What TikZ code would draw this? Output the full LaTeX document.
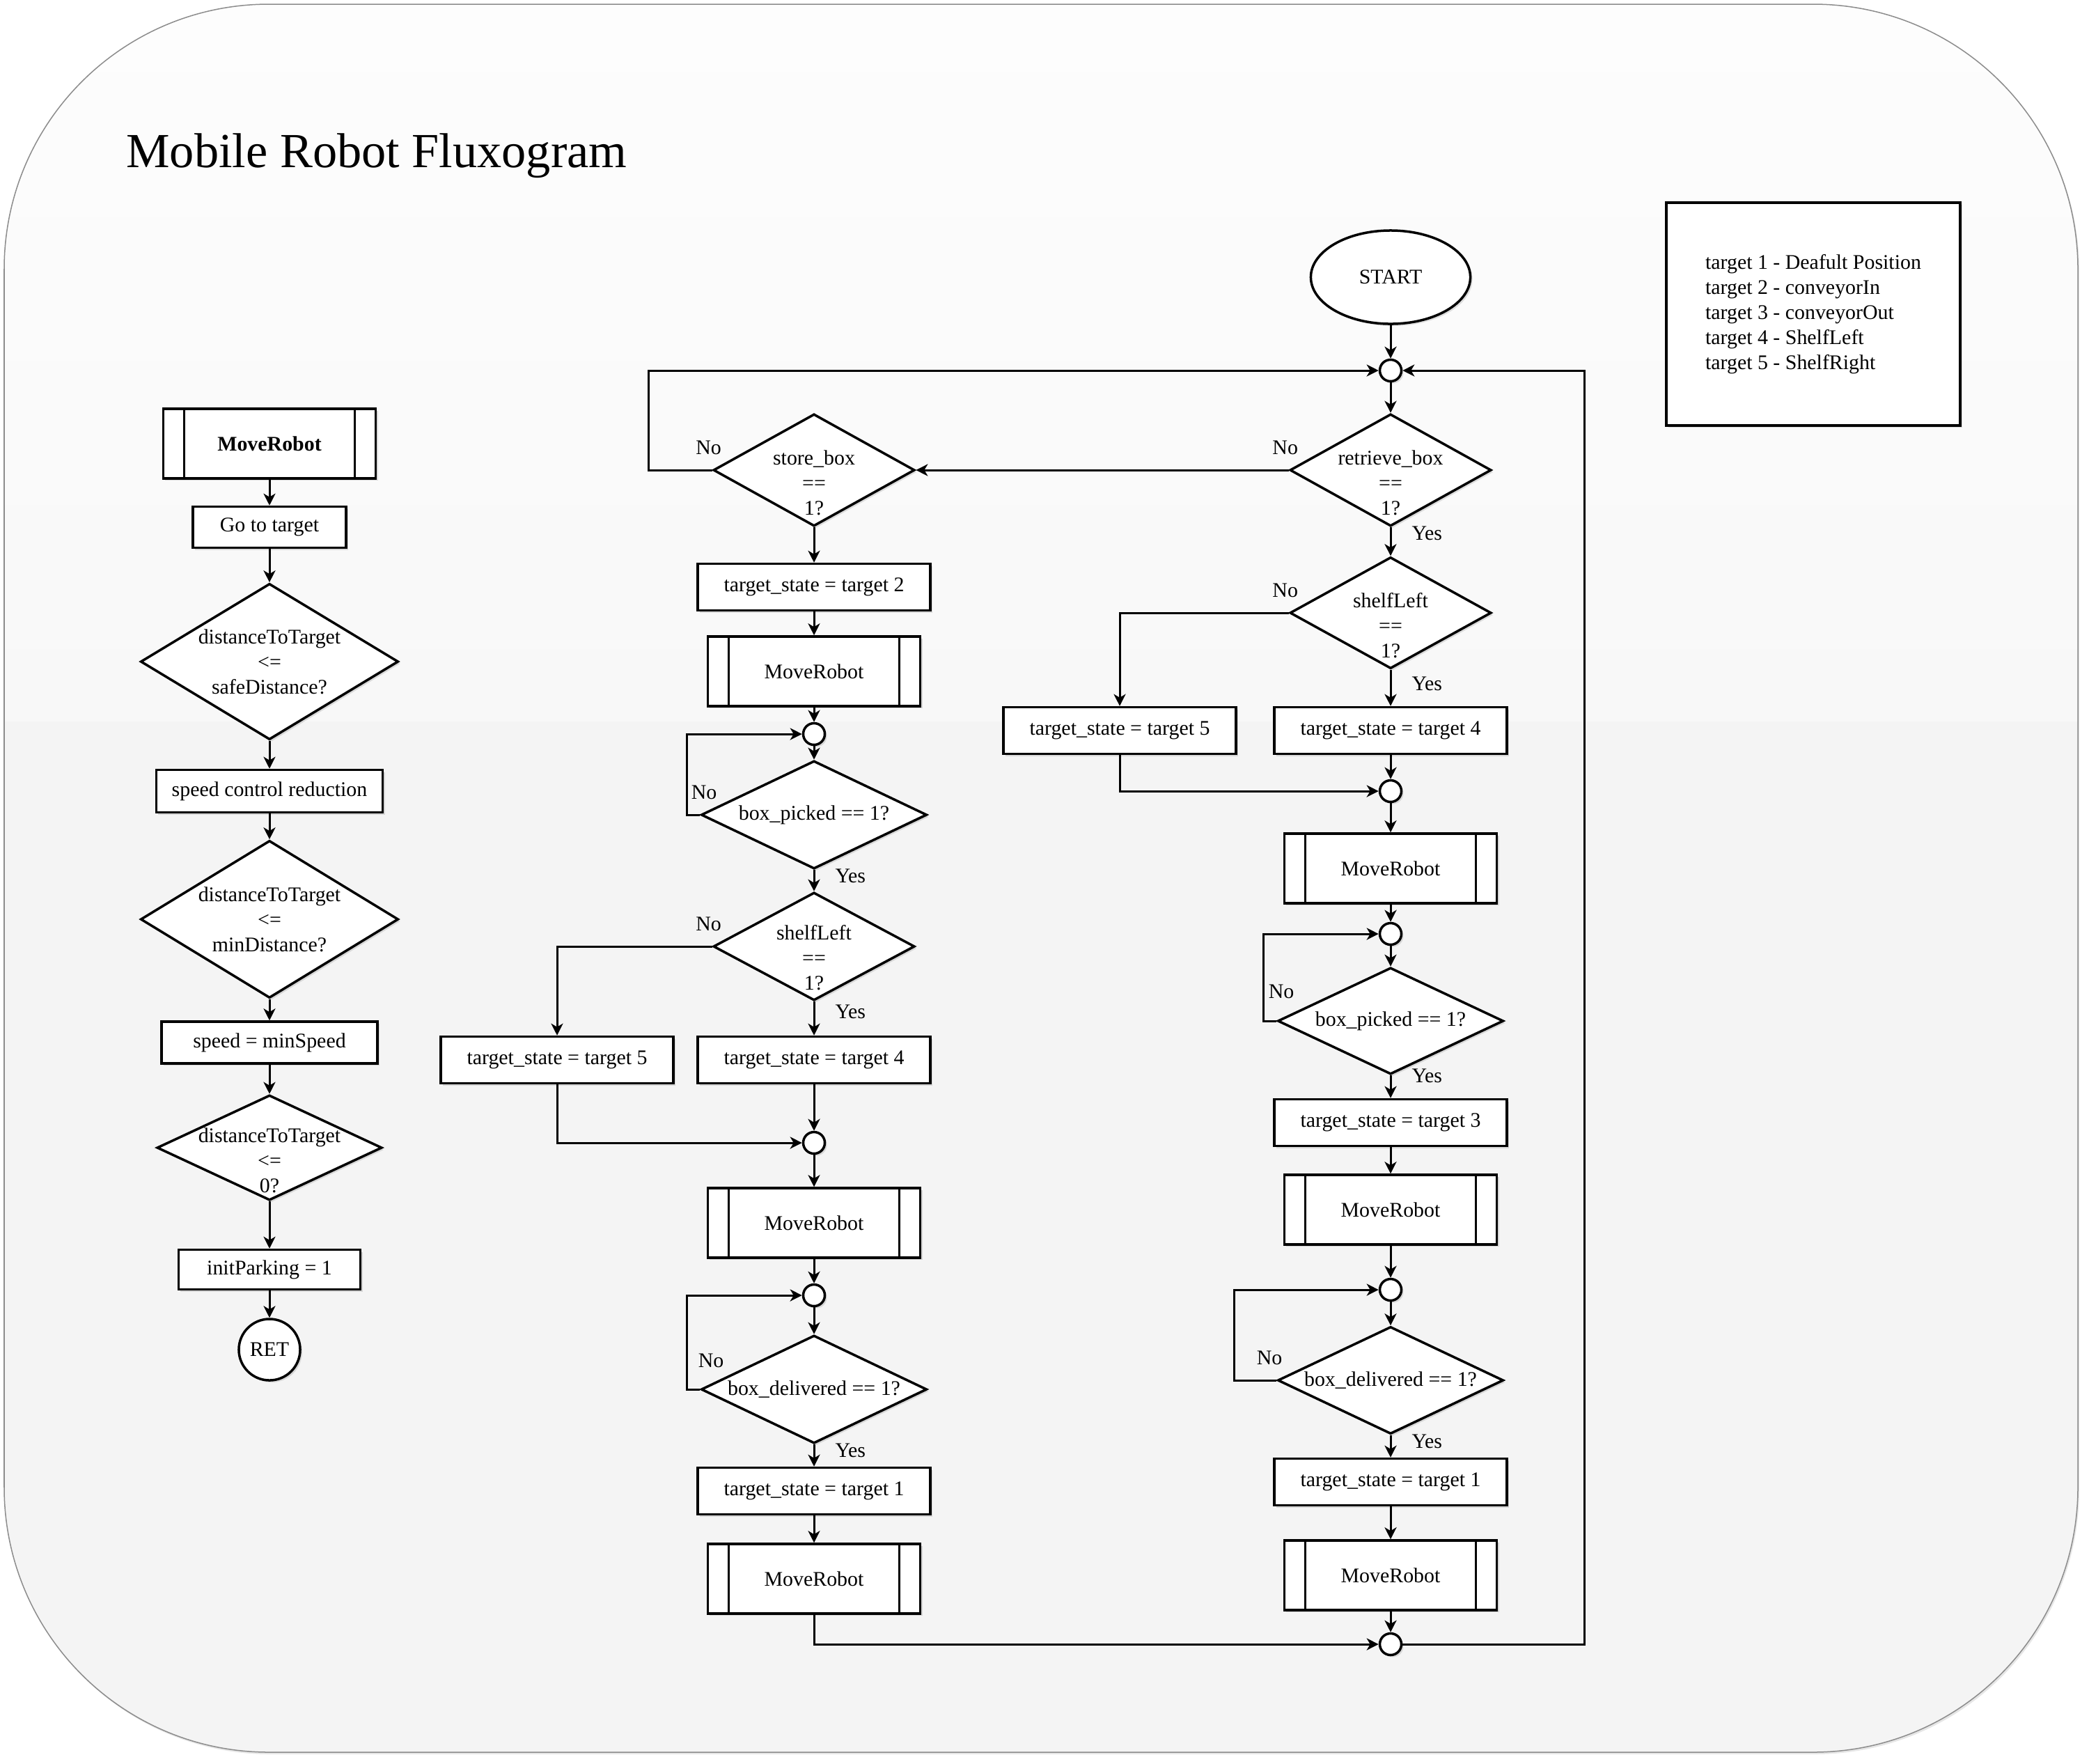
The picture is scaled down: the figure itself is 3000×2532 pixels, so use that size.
\documentclass[tikz,border=0pt]{standalone}
\usepackage{fontspec}
\setmainfont{Liberation Serif}
\usetikzlibrary{positioning,shapes.geometric,shadows,arrows.meta}

\definecolor{bgfill}{HTML}{F4F4F4}
\definecolor{bgtop}{HTML}{FDFDFD}
\definecolor{bgmid}{HTML}{F8F8F8}

\begin{document}
\begin{tikzpicture}[
    x=0.01cm, y=-0.01cm,
    every node/.style={font=\fontsize{8.5}{10.2}\selectfont},
    every label/.style={align=center},
    shadowed/.style={drop shadow={shadow xshift=0.03cm, shadow yshift=-0.03cm, opacity=0.25}},
    process/.style={draw, fill=white, line width=0.035cm, inner sep=0pt, shadowed},
    state/.style={process, minimum width=3.34cm, minimum height=0.67cm},
    subproc/.style={process, minimum width=3.05cm, minimum height=1cm,
        path picture={\draw[line width=0.03cm]
            ([xshift=0.3cm]path picture bounding box.north west) -- ([xshift=0.3cm]path picture bounding box.south west)
            ([xshift=-0.3cm]path picture bounding box.north east) -- ([xshift=-0.3cm]path picture bounding box.south east);}},
    decision/.style={diamond, process},
    junction/.style={circle, process, minimum size=0.31cm},
    flow/.style={-{Stealth[length=0.17cm, width=0.17cm, inset=0.05cm]}, line width=0.03cm},
    no/.style={inner sep=0pt, anchor=south, xshift=-0.05cm, yshift=0.21cm},
    yes/.style={inner sep=0pt, anchor=west, xshift=0.29cm, yshift=-0.09cm}
]
\useasboundingbox (0,0) rectangle (3000,2532);

% Background panel
\fill[bgfill, rounded corners=3.8cm, drop shadow={shadow xshift=0.02cm, shadow yshift=-0.03cm, opacity=0.2}] (6,6) rectangle (2984,2516);
\begin{scope}
    \clip[rounded corners=3.8cm] (6,6) rectangle (2984,2516);
    \shade[top color=bgtop, bottom color=bgmid] (0,0) rectangle (3000,1035);
\end{scope}
\draw[black!45, line width=0.015cm, rounded corners=3.8cm] (6,6) rectangle (2984,2516);

% Title and legend
\node[font=\fontsize{20}{24}\selectfont, anchor=base west] (title) at (169,240) {Mobile Robot Fluxogram};
\node[process, align=left, minimum width=4.22cm, minimum height=3.2cm] (legend) at (2604,451) {target 1 - Deafult Position\\target 2 - conveyorIn\\target 3 - conveyorOut\\target 4 - ShelfLeft\\target 5 - ShelfRight};

% Subroutine MoveRobot
\node[subproc, font=\fontsize{8.5}{10.2}\selectfont\bfseries] (mrMain) at (387,637) {MoveRobot};
\node[process, minimum width=2.2cm, minimum height=0.59cm] (goTarget) at (387,757) {Go to target};
\node[decision, minimum width=3.7cm, minimum height=2.24cm, label={center:{distanceToTarget\\<=\\safeDistance?}}] (dSafe) at (387,950) {};
\node[process, minimum width=3.25cm, minimum height=0.61cm] (speedRed) at (387,1136) {speed control reduction};
\node[decision, minimum width=3.7cm, minimum height=2.26cm, label={center:{distanceToTarget\\<=\\minDistance?}}] (dMin) at (387,1320) {};
\node[process, minimum width=3.1cm, minimum height=0.6cm] (speedMin) at (387,1497) {speed = minSpeed};
\node[decision, minimum width=3.23cm, minimum height=1.51cm, label={[yshift=-0.18cm]center:{distanceToTarget\\<=\\0?}}] (dZero) at (387,1648) {};
\node[process, minimum width=2.61cm, minimum height=0.57cm] (initPark) at (387,1823) {initParking = 1};
\node[junction, minimum size=0.88cm] (ret) at (387,1938) {RET};

% Store branch
\node[decision, minimum width=2.89cm, minimum height=1.61cm, label={[yshift=-0.18cm]center:{store\_box\\==\\1?}}] (dStore) at (1169,675) {};
\node[state] (sA2) at (1169,843) {target\_state = target 2};
\node[subproc] (mrA1) at (1169,964) {MoveRobot};
\node[junction] (jA1) at (1169,1054) {};
\node[decision, minimum width=3.24cm, minimum height=1.55cm, label={center:{box\_picked == 1?}}] (dPickA) at (1169,1170) {};
\node[decision, minimum width=2.89cm, minimum height=1.55cm, label={[yshift=-0.16cm]center:{shelfLeft\\==\\1?}}] (dShelfA) at (1169,1359) {};
\node[state] (sA5) at (800,1522) {target\_state = target 5};
\node[state] (sA4) at (1169,1522) {target\_state = target 4};
\node[junction] (jA2) at (1169,1641) {};
\node[subproc] (mrA2) at (1169,1756) {MoveRobot};
\node[junction] (jA3) at (1169,1860) {};
\node[decision, minimum width=3.24cm, minimum height=1.55cm, label={center:{box\_delivered == 1?}}] (dDropA) at (1169,1995) {};
\node[state] (sA1) at (1169,2141) {target\_state = target 1};
\node[subproc] (mrA3) at (1169,2267) {MoveRobot};

% Retrieve branch
\node[ellipse, process, minimum width=2.29cm, minimum height=1.34cm] (start) at (1997,398) {START};
\node[junction] (jTop) at (1997,532) {};
\node[decision, minimum width=2.89cm, minimum height=1.61cm, label={[yshift=-0.18cm]center:{retrieve\_box\\==\\1?}}] (dRetr) at (1997,675) {};
\node[decision, minimum width=2.89cm, minimum height=1.6cm, label={[yshift=-0.18cm]center:{shelfLeft\\==\\1?}}] (dShelfB) at (1997,880) {};
\node[state] (sB5) at (1608,1049) {target\_state = target 5};
\node[state] (sB4) at (1997,1049) {target\_state = target 4};
\node[junction] (jB1) at (1997,1136) {};
\node[subproc] (mrB1) at (1997,1247) {MoveRobot};
\node[junction] (jB2) at (1997,1341) {};
\node[decision, minimum width=3.24cm, minimum height=1.53cm, label={center:{box\_picked == 1?}}] (dPickB) at (1997,1466) {};
\node[state] (sB3) at (1997,1612) {target\_state = target 3};
\node[subproc] (mrB2) at (1997,1737) {MoveRobot};
\node[junction] (jB3) at (1997,1852) {};
\node[decision, minimum width=3.24cm, minimum height=1.54cm, label={center:{box\_delivered == 1?}}] (dDropB) at (1997,1982) {};
\node[state] (sB1) at (1997,2128) {target\_state = target 1};
\node[subproc] (mrB3) at (1997,2262) {MoveRobot};
\node[junction] (jBot) at (1997,2361) {};

% Straight connectors
\foreach \a/\b in {mrMain/goTarget, goTarget/dSafe, dSafe/speedRed, speedRed/dMin, dMin/speedMin, speedMin/dZero, dZero/initPark, initPark/ret,
                   dStore/sA2, sA2/mrA1, mrA1/jA1, jA1/dPickA, sA4/jA2, jA2/mrA2, mrA2/jA3, jA3/dDropA, sA1/mrA3,
                   start/jTop, jTop/dRetr, sB4/jB1, jB1/mrB1, mrB1/jB2, jB2/dPickB, sB3/mrB2, mrB2/jB3, jB3/dDropB, sB1/mrB3, mrB3/jBot}
    \draw[flow] (\a) -- (\b);

% Yes branches (last value: extra drop of the label)
\foreach \a/\b/\dy in {dPickA/dShelfA/0cm, dShelfA/sA4/0.06cm, dDropA/sA1/0cm, dRetr/dShelfB/0cm,
                       dShelfB/sB4/0.11cm, dPickB/sB3/-0.08cm, dDropB/sB1/0cm}
    \draw[flow] (\a.south) node[yes, yshift=-\dy] (yes-\a) {Yes} -- (\b.north);

% No branches and loops
\draw[flow] (dRetr.west) node[no] (noRetr) {No} -- (dStore.east);
\draw[flow] (dStore.west) node[no] (noStore) {No} -- ++(-91,0) |- (jTop.west);
\draw[flow] (dPickA.west) node[no, xshift=0.11cm] (noPickA) {No} -- ++(-19,0) |- (jA1.west);
\draw[flow] (dShelfA.west) node[no] (noShelfA) {No} -| (sA5.north);
\draw[flow] (sA5.south) |- (jA2.west);
\draw[flow] (dDropA.west) node[no, xshift=0.21cm, yshift=0.09cm] (noDropA) {No} -- ++(-19,0) |- (jA3.west);
\draw[flow] (mrA3.south) |- (jBot.west);
\draw[flow] (dShelfB.west) node[no] (noShelfB) {No} -| (sB5.north);
\draw[flow] (sB5.south) |- (jB1.west);
\draw[flow] (dPickB.west) node[no, xshift=0.12cm, yshift=0.1cm] (noPickB) {No} -- ++(-19,0) |- (jB2.west);
\draw[flow] (dDropB.west) node[no, xshift=-0.05cm] (noDropB) {No} -- ++(-61,0) |- (jB3.west);
\draw[flow] (jBot.east) -- ++(261,0) |- (jTop.east);

\end{tikzpicture}
\end{document}
